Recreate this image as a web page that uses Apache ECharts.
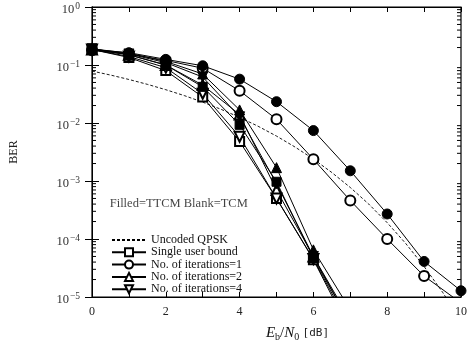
<!DOCTYPE html>
<html><head><meta charset="utf-8">
<script src="https://cdn.jsdelivr.net/npm/echarts@6/dist/echarts.min.js"></script>
<style>html,body{margin:0;padding:0;background:#fff}#c{width:468px;height:340px}</style>
</head><body><div id="c"></div>
<script>
// ---- data ----
const xLong = [0,1,2,3,4,5,6,7,8,9,10];
const xSteep = [0,1,2,3,4,5,6,7];
const xUncoded = [0,0.5,1,1.5,2,2.5,3,3.5,4,4.5,5,5.5,6,6.5,7,7.5,8,8.5,9,9.5,10];
const uncodedQPSK = [0.0786,0.0671,0.0563,0.0464,0.0375,0.0297,0.0229,0.0172,0.0125,0.0088,0.00595,0.00386,0.00239,0.0014,0.000773,0.0004,0.000191,0.000084,0.0000336,0.0000121,0.00000387];
// TCM (blank markers)
const tcmSUB  = [0.185,0.135,0.080,0.028,0.0048,0.00050,0.000044,0.0000025];
const tcmIt1  = [0.180,0.155,0.120,0.088,0.036,0.0116,0.00237,0.00046,0.000100,0.000023,0.0000079];
const tcmIt2  = [0.185,0.150,0.100,0.045,0.0140,0.00070,0.000050,0.0000035];
const tcmIt4  = [0.185,0.140,0.090,0.032,0.0058,0.00050,0.000045,0.000003];
// TTCM (filled markers)
const ttcmSUB = [0.190,0.150,0.100,0.042,0.0093,0.00097,0.000047,0.0000035];
const ttcmIt1 = [0.185,0.163,0.125,0.097,0.057,0.0233,0.0074,0.0015,0.00027,0.000041,0.0000128];
const ttcmIt2 = [0.190,0.160,0.115,0.070,0.0168,0.0017,0.000065,0.000006];
const ttcmIt4 = [0.190,0.155,0.110,0.062,0.0128,0.00090,0.000050,0.000004];
const xTickLabels = ['0','','2','','4','','6','','8','','10'];
const legendNames = ['Uncoded QPSK','Single user bound','No. of iterations=1','No. of iterations=2','No. of iterations=4'];
const annotation = 'Filled=TTCM Blank=TCM';

// ---- build ----
const pairs = (xs, ys) => ys.map((v,i)=>[xs[i], v]);
const minorTicks = [];
for (let e=-5; e<0; e++) for (let k=2; k<=9; k++) minorTicks.push(k*Math.pow(10,e));
const serif = 'Liberation Serif';
const baseLine = {color:'#000', width:1};
function mk(name, xs, ys, symbol, rotate, size){
  return {name, type:'line', data:pairs(xs,ys), symbol, symbolSize:size||9, symbolRotate:rotate||0,
    lineStyle:baseLine, itemStyle:{color:'#000', borderColor:'#000', borderWidth:1}, showAllSymbol:true,
    emphasis:{disabled:true}, animation:false, clip:true, z:3};
}
const chart = echarts.init(document.getElementById('c'), null, {renderer:'canvas'});
const axisCommonX = {type:'value', min:0, max:10, interval:1,
  axisLine:{show:true, lineStyle:{color:'#000', width:1}},
  axisTick:{show:true, inside:true, length:5, lineStyle:{color:'#000'}},
  splitLine:{show:false}};
chart.setOption({
  animation:false,
  grid:{left:92, right:7, top:7, bottom:43, show:true, borderColor:'#000', borderWidth:1.2,
    containLabel:false, outerBoundsMode:'none'},
  xAxis:[
    Object.assign({}, axisCommonX, {position:'bottom',
      axisLabel:{show:true, margin:9, color:'#222', fontFamily:serif, fontSize:12,
        formatter:(v)=>xTickLabels[Math.round(v)] || ''},
      name:'{i|E}{s|b}{n|/}{i|N}{s|0} {t|[dB]}', nameLocation:'middle', nameGap:28,
      nameTextStyle:{padding:[0,0,0,42], rich:{
        i:{fontFamily:serif, fontStyle:'italic', fontSize:15, color:'#111'},
        n:{fontFamily:serif, fontSize:15, color:'#111'},
        s:{fontFamily:serif, fontSize:10, color:'#111', padding:[7,0,0,0]},
        t:{fontFamily:'DejaVu Sans Mono', fontSize:11, color:'#222'}}}}),
    Object.assign({}, axisCommonX, {position:'top', axisLabel:{show:false}})
  ],
  yAxis:[
    {type:'log', logBase:10, min:1e-5, max:1, position:'left',
      axisLine:{show:true, lineStyle:{color:'#000'}},
      axisTick:{show:true, inside:true, length:7, lineStyle:{color:'#000'}},
      splitLine:{show:false}, minorTick:{show:false},
      axisLabel:{margin:12, padding:[6,0,0,0], formatter:(v)=>{const e=Math.round(Math.log10(v)); return '{b|10}{s|'+(e===0?'0':'\u2212'+(-e))+'}';},
        rich:{b:{fontFamily:serif, fontSize:12.5, color:'#333'}, s:{fontFamily:serif, fontSize:9.5, color:'#333', padding:[0,0,8,1]}}},
      name:'BER', nameLocation:'middle', nameRotate:90, nameGap:72,
      nameTextStyle:{fontFamily:serif, fontSize:12, color:'#222'}},
    {type:'log', logBase:10, min:1e-5, max:1, position:'right',
      axisLine:{show:true, lineStyle:{color:'#000'}},
      axisTick:{show:true, inside:true, length:7, lineStyle:{color:'#000'}},
      axisLabel:{show:false}, splitLine:{show:false}}
  ],
  legend:{data:[{name:legendNames[0], itemStyle:{opacity:0}}].concat(legendNames.slice(1)),
    orient:'vertical', left:106, top:229, itemWidth:34, itemHeight:10, itemGap:0.3,
    textStyle:{fontFamily:serif, fontSize:12, color:'#111', lineHeight:10}, selectedMode:false},
  series:[
    {name:legendNames[0], type:'line', data:pairs(xUncoded,uncodedQPSK), symbol:'none', smooth:false,
      lineStyle:{color:'#000', width:0.9, type:[3,2]}, itemStyle:{color:'#000'}, emphasis:{disabled:true}, clip:true, z:2},
    mk(legendNames[1], xSteep, tcmSUB, 'emptyRect', 0, 9),
    mk(legendNames[2], xLong, tcmIt1, 'emptyCircle', 0, 10),
    mk(legendNames[3], xSteep, tcmIt2, 'emptyTriangle', 0, 10),
    mk(legendNames[4], xSteep, tcmIt4, 'emptyTriangle', 180, 10),
    mk('TTCM SUB', xSteep, ttcmSUB, 'rect', 0, 9),
    mk('TTCM it1', xLong, ttcmIt1, 'circle', 0, 10),
    mk('TTCM it2', xSteep, ttcmIt2, 'triangle', 0, 10),
    mk('TTCM it4', xSteep, ttcmIt4, 'triangle', 180, 10),
    {name:'minor', type:'custom', data:minorTicks.map(v=>[0,v]), silent:true, z:5,
      renderItem:(params, api)=>{
        const v = api.value(1);
        const a = api.coord([0, v]); const b = api.coord([10, v]);
        return {type:'group', children:[
          {type:'line', shape:{x1:a[0], y1:a[1], x2:a[0]+4, y2:a[1]}, style:{stroke:'#000', lineWidth:1}},
          {type:'line', shape:{x1:b[0], y1:b[1], x2:b[0]-4, y2:b[1]}, style:{stroke:'#000', lineWidth:1}}]};
      }},
    {name:'note', type:'scatter', data:[[0.48, 4e-4]], symbolSize:0, silent:true,
      label:{show:true, position:'right', distance:0, formatter:annotation, fontFamily:serif, fontSize:12.5, color:'#111'}}
  ]
});
</script></body></html>
